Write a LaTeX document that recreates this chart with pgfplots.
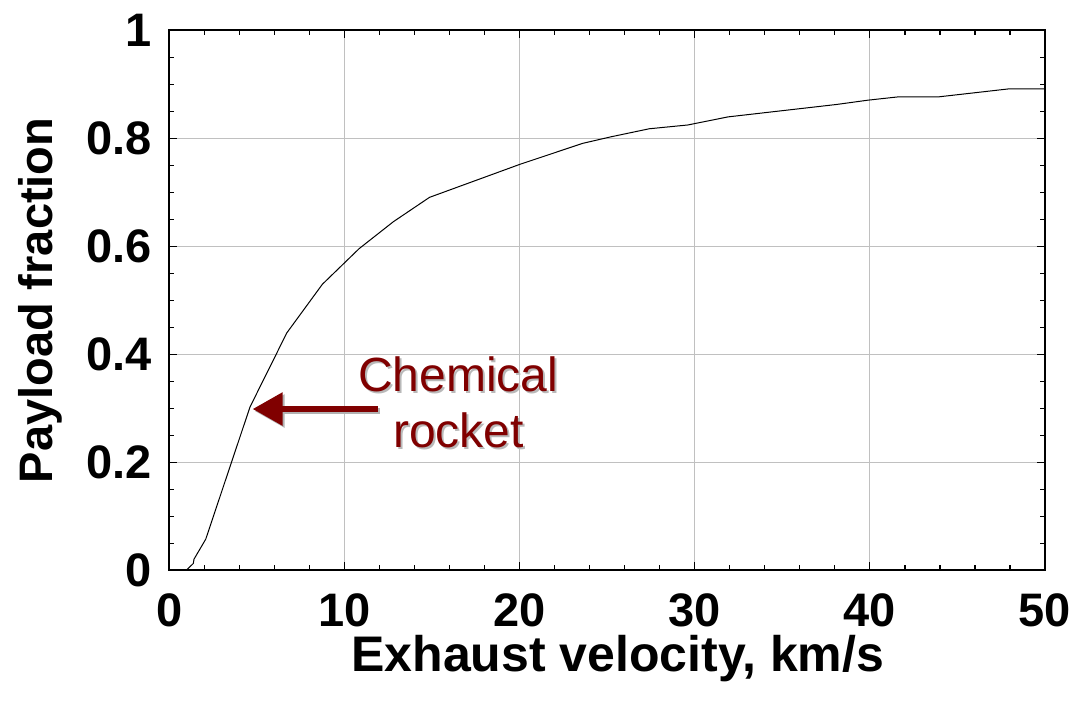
\documentclass[border=0pt]{standalone}
\usepackage{fontspec}
\setmainfont{Liberation Sans}
\usepackage{pgfplots}
\pgfplotsset{compat=1.18}
\usetikzlibrary{arrows.meta}
\definecolor{rocketred}{RGB}{128,0,0}
\definecolor{gridgray}{RGB}{192,192,192}

\begin{document}
\begin{tikzpicture}
\begin{axis}[
  scale only axis,
  width=437.75pt, height=270pt,
  xmin=0, xmax=50, ymin=0, ymax=1,
  xtick={0,10,20,30,40,50},
  ytick={0,0.2,0.4,0.6,0.8,1},
  minor x tick num=4, minor y tick num=3,
  tick align=inside,
  major tick length=4pt, minor tick length=2.5pt,
  grid=major, major grid style={gridgray, line width=0.5pt},
  axis line style={line width=1pt},
  every tick/.style={black, line width=0.6pt},
  /pgf/number format/assume math mode=true,
  ticklabel style={font=\fontsize{23.5}{27}\selectfont\bfseries, inner sep=0pt},
  xticklabel style={anchor=north, yshift=-11.5pt},
  yticklabel style={anchor=east, xshift=-8.5pt},
  every axis x label/.style={at={(axis description cs:0.512,0)}, yshift=-50.75pt, anchor=base},
  every axis y label/.style={at={(axis description cs:0,0.5)}, xshift=-64.75pt, rotate=90, anchor=center},
  xlabel style={font=\fontsize{25}{28}\selectfont\bfseries},
  ylabel style={font=\fontsize{23.5}{27}\selectfont\bfseries},
  xlabel={Exhaust velocity, km/s},
  ylabel={Payload fraction},
]
\addplot[black, line width=0.5pt] coordinates {
  (0.94,0) (1.36,0.013) (1.4,0.021) (2.07,0.058) (4.6,0.303) (6.7,0.44)
  (8.73,0.53) (10.83,0.596) (12.79,0.646) (14.85,0.691) (20,0.752)
  (23.6,0.791) (25.2,0.803) (27.4,0.818) (29.6,0.825) (31.9,0.840)
  (38.1,0.863) (39.9,0.871) (41.6,0.877) (43.9,0.877) (47.97,0.892) (50,0.892)
};
% annotation
\draw[gray!60, line width=3pt, -{Triangle[length=15pt,width=16pt]}]
  ([xshift=1pt,yshift=-1pt]axis cs:11.9,0.299) -- ([xshift=1pt,yshift=-1pt]axis cs:4.75,0.299);
\draw[rocketred, line width=3pt, -{Triangle[length=15pt,width=16pt]}]
  (axis cs:11.9,0.299) -- (axis cs:4.75,0.299);
\begin{scope}[font=\fontsize{24}{28}\selectfont]
\node[gray!55, anchor=base, xshift=1pt, yshift=-1pt] at (axis cs:16.49,0.331) {Chemical};
\node[gray!55, anchor=base, xshift=1pt, yshift=-1pt] at (axis cs:16.5,0.227) {rocket};
\node[rocketred, anchor=base] at (axis cs:16.49,0.331) {Chemical};
\node[rocketred, anchor=base] at (axis cs:16.5,0.227) {rocket};
\end{scope}
\end{axis}
\pgfresetboundingbox
\path (current axis.south west) ++(-84.75pt,-66.75pt) rectangle ++(538.5pt,352pt);
\end{tikzpicture}
\end{document}
